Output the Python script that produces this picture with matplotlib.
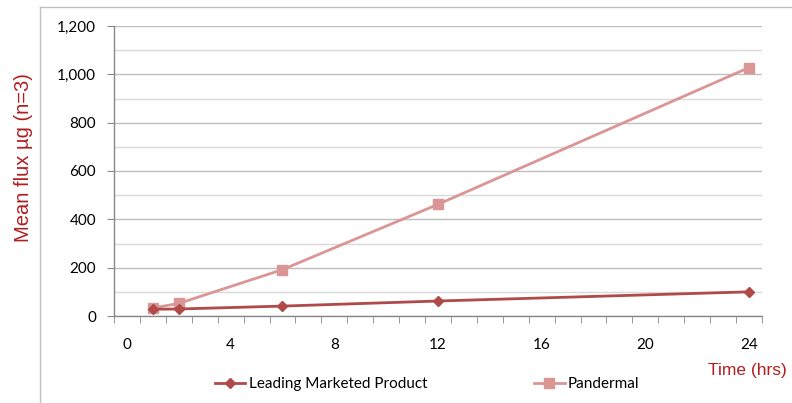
import matplotlib.pyplot as plt
from matplotlib.ticker import MultipleLocator, FuncFormatter
from matplotlib.lines import Line2D

# Data
hours = [1, 2, 6, 12, 24]
leading = [28, 29, 41, 62, 100]
pandermal = [33, 52, 192, 462, 1028]
series_names = ["Leading Marketed Product", "Pandermal"]

LEAD_COLOR = "#B04A48"
PAND_COLOR = "#D99695"
LABEL_COLOR = "#B01E1E"

plt.rcParams['font.family'] = ['Lato', 'DejaVu Sans']

fig = plt.figure(figsize=(7.92, 4.03), dpi=100)
ax = fig.add_axes([114 / 792, 87 / 403, 648 / 792, 290 / 403])

ax.plot(hours, leading, color=LEAD_COLOR, linewidth=2.0, marker="D",
        markersize=5.5, label=series_names[0], zorder=3)
ax.plot(hours, pandermal, color=PAND_COLOR, linewidth=2.0, marker="s",
        markersize=7.5, label=series_names[1], zorder=2)

# axis limits / ticks (category style axis: ticks between categories)
ax.set_xlim(-0.5, 24.5)
ax.set_ylim(0, 1200)
ax.set_xticks(range(0, 25, 4))
ax.set_xticks([x - 0.5 for x in range(0, 26)], minor=True)
ax.tick_params(axis="x", which="major", length=0, pad=16, labelsize=11)
ax.tick_params(axis="x", which="minor", length=5, color="#888888", direction="out")
ax.yaxis.set_major_locator(MultipleLocator(200))
ax.yaxis.set_minor_locator(MultipleLocator(100))
ax.yaxis.set_major_formatter(FuncFormatter(lambda v, p: f"{int(v):,}"))
ax.tick_params(axis="y", which="major", length=5, color="#888888", labelsize=11, pad=8)
ax.tick_params(axis="y", which="minor", length=0)

ax.grid(True, which="major", axis="y", color="#BFBFBF", linewidth=1.0)
ax.grid(True, which="minor", axis="y", color="#D9D9D9", linewidth=1.0)
ax.set_axisbelow(True)

for side in ["top", "right"]:
    ax.spines[side].set_visible(False)
for side in ["left", "bottom"]:
    ax.spines[side].set_color("#888888")
    ax.spines[side].set_linewidth(1.0)

ax.set_ylabel("Mean flux µg (n=3)", color=LABEL_COLOR, fontsize=14.5,
              family=["Liberation Sans", "DejaVu Sans"])
ax.yaxis.set_label_coords(-81 / 648, 0.545)

fig.text(747 / 792, 1 - 370 / 403, "Time (hrs)", color=LABEL_COLOR, fontsize=12.5,
         family=["Liberation Sans", "DejaVu Sans"], ha="center", va="center")

# chart area border (left and top only visible)
fig.add_artist(Line2D([40 / 792, 40 / 792], [0, 1 - 7 / 403], color="#BFBFBF", linewidth=1.0))
fig.add_artist(Line2D([40 / 792, 1], [1 - 7 / 403, 1 - 7 / 403], color="#BFBFBF", linewidth=1.0))

ax.legend(loc="center", bbox_to_anchor=(427 / 792, 1 - 384 / 403),
          bbox_transform=fig.transFigure, ncol=2, frameon=False, fontsize=11,
          columnspacing=7.0, handlelength=2.0, handletextpad=0.2)

fig.savefig("out.png", dpi=100)
